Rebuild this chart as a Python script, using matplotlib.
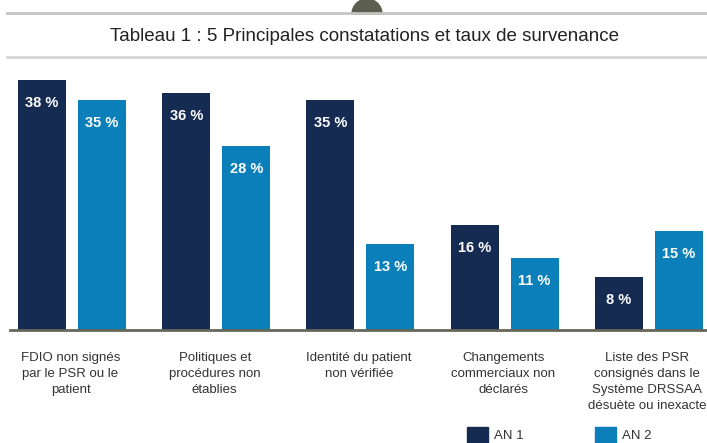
import numpy as np
import matplotlib
matplotlib.use('Agg')
import matplotlib.pyplot as plt
from matplotlib.patches import Wedge, Rectangle

# Data
categories = [
    'FDIO non signés\npar le PSR ou le\npatient',
    'Politiques et\nprocédures non\nétablies',
    'Identité du patient\nnon vérifiée',
    'Changements\ncommerciaux non\ndéclarés',
    'Liste des PSR\nconsignés dans le\nSystème DRSSAA\ndésuète ou inexacte',
]
an1 = [38, 36, 35, 16, 8]
an2 = [35, 28, 13, 11, 15]
series_names = ['AN 1', 'AN 2']

dark = '#162b52'
light = '#0a7fb9'
plt.rcParams['font.family'] = ['Liberation Sans', 'DejaVu Sans']

W, H = 707, 443
fig = plt.figure(figsize=(W / 100, H / 100), dpi=100)

# Decoration layer in pixel coordinates
deco = fig.add_axes([0, 0, 1, 1])
deco.set_xlim(0, W)
deco.set_ylim(H, 0)
deco.axis('off')
deco.plot([7, W], [13, 13], color='#c4c4c4', lw=2)
deco.plot([7, W], [57, 57], color='#d6d6d6', lw=2)
deco.add_patch(Wedge((367, 14), 15, 180, 360, color='#5c5f4f'))
deco.text(364, 36, 'Tableau 1 : 5 Principales constatations et taux de survenance',
          ha='center', va='center', fontsize=13.5, color='#222222')

# Main axes: baseline at y=330 px, group spacing ~144 px
base_px, top_px = 330, 60
ax = fig.add_axes([0, (H - base_px) / H, 1, (base_px - top_px) / H])
ax.set_zorder(2)
ax.patch.set_alpha(0)
spacing = 144.2
ax.set_xlim(-72 / spacing, -72 / spacing + W / spacing)
ax.set_ylim(0, (base_px - top_px) / 6.58)

x = np.arange(len(categories))
w = 48 / spacing
off = 30 / spacing
b1 = ax.bar(x - off, an1, w, color=dark)
b2 = ax.bar(x + off, an2, w, color=light)

for bars, vals in ((b1, an1), (b2, an2)):
    for rect, v in zip(bars, vals):
        ax.text(rect.get_x() + rect.get_width() / 2, v - 3.5, f'{v} %',
                ha='center', va='center', color='white', fontsize=10.5,
                fontweight='bold')

ax.axhline(0, xmin=10 / W, xmax=1, color='#66665a', lw=2, clip_on=False)

for i, lab in enumerate(categories):
    ax.text(i + (-0.01 if i == 4 else -0.01), -3.3, lab, ha='center', va='top',
            fontsize=9.5, color='#333333', linespacing=1.45, clip_on=False)

for a in ['top', 'right', 'left', 'bottom']:
    ax.spines[a].set_visible(False)
ax.set_xticks([])
ax.set_yticks([])

# Legend drawn in pixel space
for (sx, c, name) in ((467, dark, series_names[0]), (595, light, series_names[1])):
    deco.add_patch(Rectangle((sx, 427), 21, 18, color=c))
    deco.text(sx + 27, 436, name, ha='left', va='center', fontsize=9.5,
              color='#333333')

fig.savefig('out.png', dpi=100)
